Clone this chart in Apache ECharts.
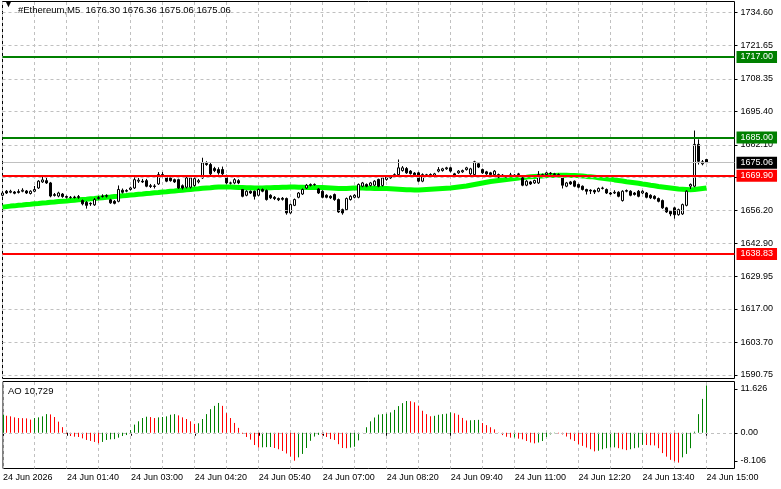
<!DOCTYPE html>
<html>
<head>
<meta charset="utf-8">
<title>#Ethereum,M5</title>
<script src="https://cdn.jsdelivr.net/npm/echarts@6.0.0/dist/echarts.min.js"></script>
<style>
    html, body { margin: 0; padding: 0; background: #fff; }
    #chart { width: 781px; height: 489px; }
</style>
</head>
<body>
<div id="chart"></div>
<script>
// 数据
const symbolName = '#Ethereum,M5';
const lastBar = [1676.30, 1676.36, 1675.06, 1675.06];   // O H L C
const aoHeader = '10,729';

// one row per 5-minute bar: [open, high, low, close]
const ohlc = [
    [1662.1,1663.7,1661.7,1663.0],[1663.7,1664.2,1662.6,1663.0],[1663.3,1664.3,1662.9,1663.7],[1663.4,1663.8,1662.5,1662.9],
    [1663.2,1664.5,1662.8,1663.6],[1663.7,1664.9,1663.3,1664.1],[1663.8,1664.2,1662.6,1663.0],[1662.8,1664.1,1662.4,1663.7],
    [1663.7,1665.8,1663.3,1664.4],[1665.0,1668.1,1664.6,1667.7],[1667.4,1669.7,1667.0,1668.2],[1667.9,1669.7,1666.6,1667.0],
    [1667.0,1667.4,1661.3,1661.8],[1662.0,1663.0,1661.6,1662.4],[1661.8,1663.5,1661.3,1663.0],[1662.6,1663.0,1661.1,1661.6],
    [1661.6,1662.0,1660.8,1661.3],[1661.3,1661.8,1660.8,1661.2],[1661.4,1661.9,1660.8,1661.2],[1661.2,1662.2,1660.7,1661.6],
    [1660.0,1660.4,1658.1,1658.7],[1659.3,1659.8,1656.8,1658.1],[1658.9,1659.3,1657.9,1658.7],[1658.3,1661.0,1657.9,1660.4],
    [1660.8,1661.8,1660.4,1661.2],[1661.6,1662.5,1661.2,1661.8],[1661.7,1662.5,1661.2,1662.0],[1660.3,1660.7,1658.7,1659.1],
    [1659.7,1660.2,1658.5,1658.9],[1659.7,1666.0,1659.3,1664.4],[1664.1,1664.8,1662.8,1663.3],[1663.7,1664.5,1663.3,1664.0],
    [1664.4,1665.5,1664.0,1665.0],[1665.0,1670.0,1664.6,1668.3],[1667.7,1669.0,1667.0,1668.1],[1667.7,1668.6,1667.0,1667.4],
    [1667.9,1668.6,1665.3,1665.7],[1665.9,1666.6,1665.0,1665.6],[1665.8,1666.5,1664.8,1665.6],[1666.6,1671.3,1666.2,1670.3],
    [1670.3,1671.3,1669.3,1669.7],[1669.3,1669.7,1667.3,1667.7],[1669.0,1669.7,1667.5,1667.9],[1668.3,1668.7,1667.0,1667.4],
    [1668.3,1668.7,1664.6,1665.0],[1665.9,1666.4,1664.4,1665.0],[1665.3,1669.4,1664.8,1669.0],[1665.3,1669.5,1664.8,1669.0],
    [1666.0,1669.3,1665.5,1668.7],[1667.4,1668.6,1666.8,1667.9],[1669.0,1677.0,1668.6,1675.0],[1674.7,1675.6,1673.8,1674.3],
    [1674.3,1674.9,1670.0,1670.6],[1672.7,1673.4,1671.3,1671.9],[1672.3,1673.2,1670.3,1671.0],[1672.3,1673.5,1670.0,1670.6],
    [1669.7,1670.3,1666.5,1667.0],[1667.0,1667.5,1666.4,1666.9],[1667.0,1668.9,1666.5,1668.3],[1667.9,1668.5,1666.5,1667.0],
    [1664.4,1664.6,1661.3,1661.7],[1662.1,1664.1,1661.7,1663.7],[1663.7,1664.0,1662.6,1663.0],[1663.7,1664.0,1660.4,1661.7],
    [1662.1,1664.8,1661.7,1664.4],[1664.4,1664.8,1663.3,1663.7],[1664.0,1664.4,1660.0,1660.4],[1662.1,1662.5,1660.6,1661.1],
    [1661.3,1661.8,1660.2,1660.8],[1660.8,1661.2,1659.8,1660.3],[1660.9,1661.4,1660.0,1660.5],[1660.8,1661.2,1654.4,1655.1],
    [1655.1,1658.8,1654.7,1658.4],[1658.1,1660.8,1657.8,1660.4],[1661.3,1663.4,1660.9,1663.0],[1662.6,1664.8,1662.2,1664.4],
    [1665.0,1666.6,1664.6,1666.1],[1666.0,1666.8,1665.6,1666.4],[1666.4,1666.8,1665.9,1666.3],[1664.6,1665.0,1662.6,1663.0],
    [1663.7,1664.1,1660.9,1661.3],[1662.1,1662.5,1660.9,1661.3],[1661.7,1662.1,1660.6,1661.1],[1662.4,1662.8,1659.9,1660.4],
    [1660.4,1660.8,1655.1,1655.5],[1656.4,1656.8,1654.4,1655.1],[1656.4,1661.2,1656.0,1660.8],[1660.4,1662.1,1660.0,1661.7],
    [1661.3,1662.5,1660.9,1662.1],[1661.3,1666.8,1660.9,1666.4],[1665.7,1667.4,1665.3,1667.0],[1666.4,1666.8,1665.3,1665.7],
    [1666.0,1667.4,1665.6,1667.0],[1666.1,1668.1,1665.7,1667.7],[1668.4,1668.7,1665.3,1665.7],[1666.0,1669.4,1665.6,1669.0],
    [1668.4,1669.7,1667.9,1669.3],[1669.0,1670.1,1668.6,1669.7],[1669.7,1670.8,1669.2,1670.3],[1670.3,1676.3,1669.9,1673.0],
    [1671.9,1673.7,1671.5,1673.0],[1672.7,1673.3,1670.6,1671.0],[1671.7,1672.1,1670.3,1670.7],[1670.9,1671.3,1669.8,1670.2],
    [1671.0,1671.4,1667.3,1667.7],[1667.7,1670.8,1667.3,1670.3],[1670.1,1670.6,1669.7,1670.2],[1670.3,1670.8,1669.7,1670.1],
    [1669.7,1671.0,1669.2,1670.6],[1671.7,1673.3,1671.2,1672.3],[1671.9,1673.0,1671.5,1672.6],[1672.6,1673.4,1672.2,1673.0],
    [1673.0,1673.4,1671.2,1671.7],[1670.6,1671.0,1669.7,1670.1],[1671.0,1672.1,1670.6,1671.7],[1671.4,1672.3,1671.0,1671.9],
    [1672.3,1673.4,1671.9,1673.0],[1670.6,1673.0,1670.2,1672.6],[1670.3,1675.8,1670.0,1675.4],[1674.6,1675.0,1672.9,1673.3],
    [1672.3,1672.7,1670.6,1671.0],[1671.4,1671.8,1670.2,1670.6],[1671.0,1671.4,1669.9,1670.3],[1670.3,1672.1,1669.9,1671.7],
    [1670.3,1670.7,1668.9,1669.3],[1670.1,1670.5,1669.1,1669.5],[1669.7,1670.1,1668.9,1669.3],[1669.9,1671.0,1669.5,1670.2],
    [1670.1,1670.5,1669.1,1669.5],[1670.3,1671.0,1669.9,1670.6],[1669.0,1669.4,1665.7,1666.1],[1666.1,1668.1,1665.7,1667.7],
    [1667.4,1667.8,1666.2,1666.6],[1667.0,1668.3,1666.6,1668.0],[1667.0,1671.7,1666.6,1670.3],[1670.1,1670.7,1669.7,1670.3],
    [1670.3,1671.4,1669.9,1671.0],[1670.9,1671.3,1670.3,1670.7],[1670.6,1671.0,1669.9,1670.3],[1670.3,1670.8,1669.6,1670.1],
    [1669.0,1669.4,1664.8,1666.1],[1665.7,1667.4,1665.3,1667.0],[1667.4,1667.8,1666.2,1666.6],[1667.7,1668.0,1665.3,1665.7],
    [1666.4,1666.7,1664.9,1665.3],[1665.7,1666.0,1664.0,1664.4],[1664.4,1664.7,1662.4,1663.7],[1664.1,1664.5,1662.6,1663.8],
    [1664.0,1664.4,1662.6,1663.4],[1663.7,1665.2,1663.3,1664.8],[1664.8,1665.5,1664.4,1665.0],[1664.4,1664.8,1662.6,1663.0],
    [1663.0,1663.4,1662.2,1662.6],[1663.0,1664.1,1662.6,1663.3],[1663.3,1663.7,1661.3,1661.7],[1660.0,1664.1,1659.6,1663.7],
    [1663.7,1664.4,1663.3,1664.0],[1663.7,1664.1,1661.7,1662.1],[1663.0,1663.4,1662.0,1662.4],[1663.7,1664.2,1661.3,1661.7],
    [1663.0,1664.1,1662.6,1663.7],[1663.0,1663.4,1660.9,1661.3],[1662.1,1662.5,1660.6,1661.1],[1661.7,1662.1,1660.4,1660.8],
    [1660.8,1661.2,1659.3,1659.7],[1660.0,1660.4,1656.7,1657.1],[1657.1,1657.5,1655.1,1655.5],[1655.7,1656.1,1653.8,1654.7],
    [1657.1,1657.5,1652.8,1654.4],[1654.4,1656.8,1654.0,1656.4],[1654.7,1658.8,1654.3,1658.4],[1658.1,1664.1,1657.7,1663.7],
    [1665.7,1666.8,1664.6,1666.4],[1665.7,1687.8,1665.3,1682.3],[1682.3,1684.3,1674.3,1675.6],[1674.6,1676.1,1674.0,1675.4],
    lastBar
];

// thick lime moving average, one value per bar
const maValues = [
    1657.4,1657.6,1657.8,1657.9,1658.1,1658.2,1658.4,1658.5,1658.7,1658.8,1659.0,1659.1,1659.3,1659.4,1659.6,1659.7,
    1659.8,1660.0,1660.1,1660.3,1660.4,1660.5,1660.7,1660.8,1661.0,1661.1,1661.3,1661.4,1661.6,1661.7,1661.9,1662.0,
    1662.2,1662.3,1662.5,1662.6,1662.8,1662.9,1663.1,1663.2,1663.4,1663.5,1663.7,1663.8,1664.0,1664.1,1664.3,1664.4,
    1664.6,1664.7,1664.9,1665.0,1665.1,1665.3,1665.4,1665.4,1665.4,1665.4,1665.3,1665.2,1665.2,1665.1,1665.1,1665.0,
    1665.0,1665.0,1665.1,1665.1,1665.2,1665.2,1665.3,1665.3,1665.4,1665.4,1665.3,1665.3,1665.2,1665.2,1665.2,1665.2,
    1665.2,1665.1,1665.0,1664.9,1664.8,1664.8,1664.8,1664.9,1665.0,1665.0,1665.0,1664.9,1664.9,1664.8,1664.8,1664.8,
    1664.8,1664.7,1664.6,1664.5,1664.4,1664.3,1664.3,1664.2,1664.2,1664.3,1664.4,1664.5,1664.6,1664.7,1664.8,1664.9,
    1665.0,1665.2,1665.4,1665.6,1665.8,1666.1,1666.4,1666.7,1667.0,1667.3,1667.6,1667.8,1668.0,1668.2,1668.4,1668.6,
    1668.8,1669.0,1669.2,1669.3,1669.5,1669.6,1669.7,1669.8,1669.9,1670.0,1670.0,1670.1,1670.1,1670.1,1670.0,1670.0,
    1669.9,1669.8,1669.6,1669.5,1669.3,1669.1,1668.9,1668.7,1668.5,1668.2,1668.0,1667.8,1667.5,1667.3,1667.1,1666.9,
    1666.6,1666.4,1666.1,1665.9,1665.6,1665.4,1665.2,1665.0,1664.8,1664.6,1664.5,1664.4,1664.3,1664.4,1664.6,1664.8,1665.0
];

// Awesome Oscillator, one value per bar
const aoValues = [
    4.09,3.86,3.72,3.49,3.34,3.31,3.26,2.98,3.34,3.49,
    3.72,4.23,4.16,3.57,2.52,1.27,-0.22,-0.74,-0.89,-0.96,
    -1.27,-1.63,-1.85,-2.08,-2.38,-2.08,-1.63,-1.49,-1.44,-1.11,
    -0.74,-0.52,0.60,1.85,2.60,3.34,3.64,3.56,3.34,3.49,
    3.57,3.72,4.09,4.23,3.94,3.49,3.12,2.60,2.01,2.15,
    3.12,4.23,5.35,6.10,6.76,6.10,4.45,3.34,2.23,1.11,
    -0.22,-0.96,-1.56,-2.78,-3.36,-3.31,-3.26,-3.24,-3.46,-3.74,
    -4.13,-4.70,-5.38,-6.34,-5.57,-4.80,-3.46,-1.82,-0.86,-0.48,
    -0.58,-0.96,-1.44,-1.63,-2.59,-3.46,-3.50,-3.36,-3.17,-1.73,
    0.02,1.25,2.59,3.46,4.13,4.22,4.32,4.61,5.18,6.05,
    6.72,7.20,7.15,6.91,6.14,4.99,4.22,3.74,3.84,4.08,
    4.22,4.32,4.61,4.42,4.08,3.36,2.78,2.83,2.88,2.93,
    2.21,1.73,1.25,0.77,-0.05,-0.53,-0.91,-1.10,-1.06,-1.34,
    -1.49,-1.87,-2.21,-2.40,-2.21,-1.87,-0.96,-0.38,-0.10,-0.14,
    -0.38,-0.86,-1.49,-1.87,-2.59,-2.98,-3.36,-3.74,-4.22,-4.08,
    -3.74,-3.50,-3.36,-3.31,-3.50,-3.74,-3.94,-3.74,-3.50,-3.36,
    -2.74,-2.78,-2.83,-2.88,-3.50,-4.61,-5.42,-6.14,-6.48,-6.77,
    -5.57,-4.80,-3.50,0.24,4.22,7.68,10.729
];

// horizontal levels
const resistanceLevels = [1717.00, 1685.00];
const supportLevels = [1669.90, 1638.83];
const bidPrice = 1675.06;

// axis labels
const priceTicks = [1734.60, 1721.65, 1708.35, 1695.40, 1682.10, 1669.15, 1656.20, 1642.90, 1629.95, 1617.00, 1603.70, 1590.75];
const aoTickLabels = ['11.626', '0.00', '-8.106'];
const timeTickLabels = ['24 Jun 2026', '24 Jun 01:40', '24 Jun 03:00', '24 Jun 04:20', '24 Jun 05:40', '24 Jun 07:00',
    '24 Jun 08:20', '24 Jun 09:40', '24 Jun 11:00', '24 Jun 12:20', '24 Jun 13:40', '24 Jun 15:00'];

// 函数
const font = "'Liberation Sans', Arial, sans-serif";
const gridColor = '#c0c0c0';
const shiftBars = 7;   // empty space right of the last bar
const gridEvery = 8;   // vertical dashed grid every 8 bars
const priceRange = [1589.36, 1739.03];
const aoRange = [-8.106, 11.626];
const barTimes = ohlc.map((r, i) => {
    const m = 20 + i * 5;
    return String(Math.floor(m / 60)).padStart(2, '0') + ':' + String(m % 60).padStart(2, '0');
});
const categories = barTimes.concat(new Array(shiftBars).fill('').map((s, k) => 's' + k));
const candleData = ohlc.map(r => [r[0], r[3], r[2], r[1]]);
// label positions on the AO scale (MT4 draws max/min labels inside the window)
const aoTickPos = [9.93, 0, -6.40];

function levelLine(price, lineColor, boxColor, width) {
    return {
        yAxis: price,
        lineStyle: { color: lineColor, width: width, type: 'solid' },
        label: { backgroundColor: boxColor }
    };
}
const dashed = { color: gridColor, type: [3, 3], width: 1 };

// vertical dashed grid: one item per bar, a dashed column on every 8th bar
function vGridSeries(axisIndex, values, range) {
    return {
        name: 'vgrid' + axisIndex, type: 'custom', xAxisIndex: axisIndex, yAxisIndex: axisIndex, z: 2,
        data: values.map((v, i) => [i, v]),
        encode: { x: 0, y: 1 },
        renderItem: function (params, api) {
            const i = params.dataIndex;
            if (i % gridEvery !== 0) return null;
            const top = api.coord([i, range[1]]);
            const bottom = api.coord([i, range[0]]);
            const x = Math.floor(top[0]);
            const dashes = [];
            for (let y = Math.ceil(top[1]); y < bottom[1]; y += 6) {
                dashes.push({
                    type: 'rect',
                    shape: { x: x, y: y, width: 1, height: Math.min(3, bottom[1] - y) },
                    style: { fill: gridColor }
                });
            }
            return { type: 'group', children: dashes };
        }
    };
}

var myChart = echarts.init(document.getElementById('chart'));
myChart.setOption({
    animation: false,
    backgroundColor: '#fff',
    title: [
        { text: '▼', left: 4, top: 0, padding: 0, textStyle: { fontSize: 9, color: '#000', fontWeight: 'normal' } },
        {
            text: symbolName + '  ' + lastBar.map(v => v.toFixed(2)).join(' '),
            left: 18, top: 5, padding: 0,
            textStyle: { fontSize: 9.5, fontFamily: font, color: '#000', fontWeight: 'normal' }
        },
        {
            text: 'AO ' + aoHeader, left: 8, top: 386, padding: 0,
            textStyle: { fontSize: 9.5, fontFamily: font, color: '#000', fontWeight: 'normal' }
        }
    ],
    grid: [
        { left: 2.5, top: 1.5, width: 732, height: 377, show: true, borderColor: '#000', borderWidth: 1, backgroundColor: 'transparent' },
        { left: 2.5, top: 381.5, width: 732, height: 87, show: true, borderColor: '#000', borderWidth: 1, backgroundColor: 'transparent' }
    ],
    xAxis: [
        {
            type: 'category', gridIndex: 0, data: categories, boundaryGap: false,
            axisLine: { show: false }, axisTick: { show: false }, axisLabel: { show: false },
            splitLine: { show: false }
        },
        {
            type: 'category', gridIndex: 1, data: categories, boundaryGap: false,
            axisLine: { show: false },
            axisTick: { show: true, interval: 15, length: 3, lineStyle: { color: '#000' } },
            axisLabel: {
                show: true, interval: 15, align: 'left', margin: 5,
                fontSize: 9, fontFamily: font, color: '#000',
                formatter: (v, idx) => timeTickLabels[Math.round(idx / 16)] || ''
            },
            splitLine: { show: false }
        }
    ],
    yAxis: [
        {
            type: 'value', gridIndex: 0, position: 'right', min: priceRange[0], max: priceRange[1],
            axisLine: { show: false },
            axisTick: { show: true, length: 3, customValues: priceTicks, lineStyle: { color: '#000' } },
            axisLabel: {
                show: true, customValues: priceTicks, margin: 6,
                fontSize: 9, fontFamily: font, color: '#000',
                formatter: v => v.toFixed(2)
            },
            splitLine: { show: false }
        },
        {
            type: 'value', gridIndex: 1, position: 'right', min: aoRange[0], max: aoRange[1],
            axisLine: { show: false },
            axisTick: { show: true, length: 3, customValues: aoTickPos, lineStyle: { color: '#000' } },
            axisLabel: {
                show: true, customValues: aoTickPos, margin: 6,
                fontSize: 9, fontFamily: font, color: '#000',
                formatter: v => aoTickLabels[aoTickPos.indexOf(v)] || ''
            },
            splitLine: { show: false }
        }
    ],
    series: [
        {
            // horizontal dashed grid, main window
            name: 'grid', type: 'line', xAxisIndex: 0, yAxisIndex: 0, data: [], z: 1,
            markLine: {
                silent: true, symbol: ['none', 'none'], animation: false, label: { show: false },
                lineStyle: dashed,
                data: priceTicks.map(p => ({ yAxis: p }))
            }
        },
        vGridSeries(0, maValues, priceRange),
        vGridSeries(1, aoValues, aoRange),
        {
            name: 'MA', type: 'line', xAxisIndex: 0, yAxisIndex: 0, data: maValues,
            showSymbol: false, symbol: 'none', z: 2.5,
            lineStyle: { color: '#00ff00', width: 5 }
        },
        {
            name: symbolName, type: 'candlestick', xAxisIndex: 0, yAxisIndex: 0, data: candleData,
            barWidth: 3, z: 3,
            itemStyle: { color: '#ffffff', color0: '#000000', borderColor: '#000000', borderColor0: '#000000', borderWidth: 1 }
        },
        {
            name: 'levels', type: 'line', xAxisIndex: 0, yAxisIndex: 0, data: [], z: 5,
            markLine: {
                silent: true, symbol: ['none', 'none'], animation: false,
                label: {
                    show: true, position: 'end', distance: 2,
                    formatter: p => Number(p.value).toFixed(2),
                    color: '#fff', fontSize: 9, fontFamily: font,
                    padding: [1, 4, 1, 4], lineHeight: 10
                },
                data: [
                    levelLine(bidPrice, '#c0c0c0', '#000000', 1),
                    levelLine(resistanceLevels[0], '#008000', '#008000', 2),
                    levelLine(resistanceLevels[1], '#008000', '#008000', 2),
                    levelLine(supportLevels[0], '#ff0000', '#ff0000', 2),
                    levelLine(supportLevels[1], '#ff0000', '#ff0000', 2)
                ]
            }
        },
        {
            // zero line, AO window
            name: 'aoGrid', type: 'line', xAxisIndex: 1, yAxisIndex: 1, data: [], z: 1,
            markLine: {
                silent: true, symbol: ['none', 'none'], animation: false, label: { show: false },
                lineStyle: dashed,
                data: [{ yAxis: 0 }]
            }
        },
        {
            name: 'AO', type: 'custom', xAxisIndex: 1, yAxisIndex: 1, z: 3,
            data: aoValues.map((v, i) => [i, v]),
            encode: { x: 0, y: 1 },
            renderItem: function (params, api) {
                const i = api.value(0);
                const v = api.value(1);
                const base = api.coord([i, 0]);
                const tip = api.coord([i, v]);
                const x = Math.floor(base[0]) + 0.5;
                const up = i === 0 || v >= aoValues[i - 1];
                return {
                    type: 'line',
                    shape: { x1: x, y1: base[1], x2: x, y2: tip[1] },
                    style: { stroke: up ? '#008000' : '#ff0000', lineWidth: 1 }
                };
            }
        }
    ]
});
</script>
</body>
</html>
